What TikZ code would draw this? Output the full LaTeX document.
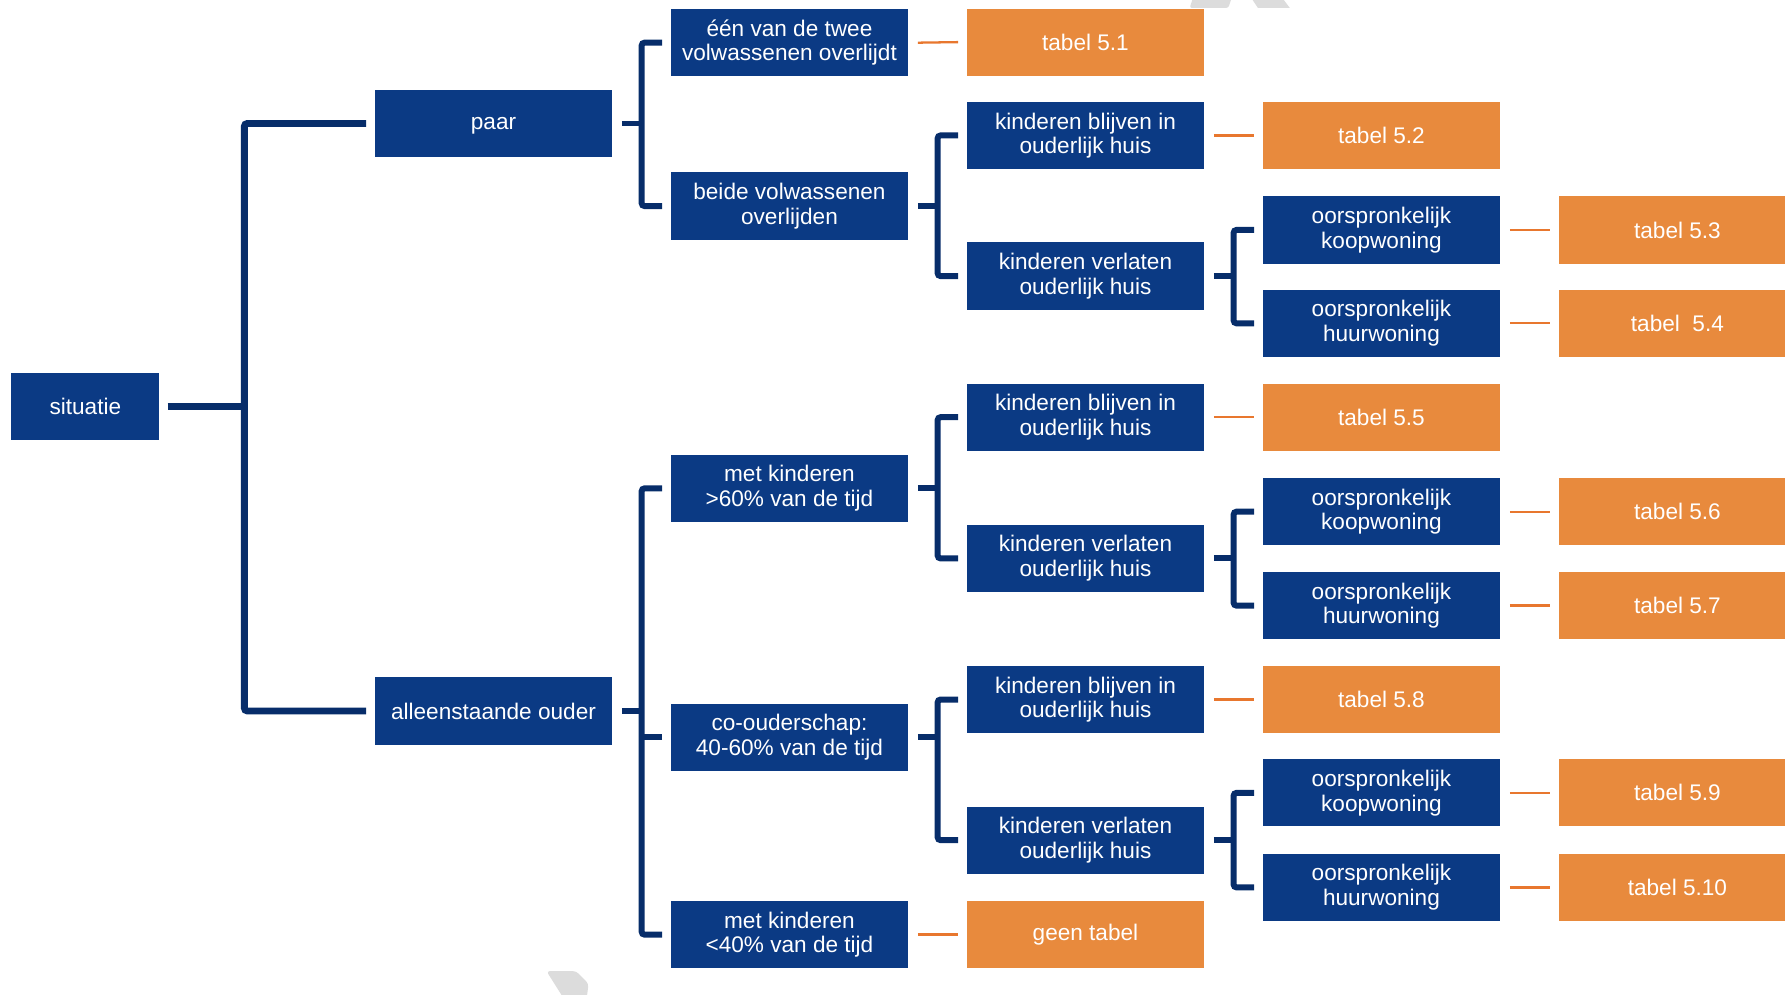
\documentclass[tikz,border=0pt]{standalone}
\usepackage{fontspec}
\setmainfont{Liberation Sans}
\usetikzlibrary{calc}
\definecolor{navy}{HTML}{0B3A84}
\definecolor{navyline}{HTML}{072D6A}
\definecolor{tabelorange}{HTML}{E88A3D}
\definecolor{orangeline}{HTML}{E8772E}
\definecolor{wmgrey}{HTML}{DCDCDC}
\begin{document}
\begin{tikzpicture}[x=0.02cm,y=-0.02cm,
  bbox/.style={fill=navy,text=white,align=center,minimum width=4.18cm,minimum height=1.18cm,inner sep=0pt,font=\fontsize{11.3}{12.3}\selectfont},
  obox/.style={bbox,fill=tabelorange},
  trunk/.style={draw=navyline,line width=0.12cm,rounded corners=0.05cm},
  br/.style={draw=navyline,line width=0.105cm,rounded corners=0.05cm},
  ol/.style={draw=orangeline,line width=0.04cm}]
\useasboundingbox (0,0) rectangle (1568,874);
\clip (0,0) rectangle (1568,874);
% watermark fragments
\fill[wmgrey,rounded corners=0.04cm] (1049,-5) -- (1083,-5) -- (1079,7) -- (1045,7) -- cycle;
\fill[wmgrey] (1097,-5) -- (1124,-5) -- (1133,7) -- (1105,7) -- cycle;
\fill[wmgrey,rounded corners=0.06cm] (480,853) -- (506,853) -- (517,864) -- (515,880) -- (497,880) -- cycle;
% column 1
\node[bbox,minimum width=2.6cm] (sit) at (75,357) {situatie};
% column 2
\node[bbox] (paar) at (433.5,108.5) {\vphantom{l}paar};
\node[bbox] (alleen) at (433.5,624.5) {alleenstaande ouder};
% column 3
\node[bbox] (een) at (693.5,37.5) {één van de twee\\volwassenen overlijdt};
\node[bbox] (beide) at (693.5,181) {beide volwassenen\\overlijden};
\node[bbox] (m60) at (693.5,429) {met kinderen\\>60\% van de tijd};
\node[bbox] (co) at (693.5,647.5) {co-ouderschap:\\40-60\% van de tijd};
\node[bbox] (m40) at (693.5,821) {met kinderen\\<40\% van de tijd};
% column 4
\node[obox] (t51) at (953.5,37) {tabel 5.1};
\node[bbox] (kb1) at (953.5,119) {kinderen blijven in\\ouderlijk huis};
\node[bbox] (kv1) at (953.5,242.5) {kinderen verlaten\\ouderlijk huis};
\node[bbox] (kb2) at (953.5,366.5) {kinderen blijven in\\ouderlijk huis};
\node[bbox] (kv2) at (953.5,490.5) {kinderen verlaten\\ouderlijk huis};
\node[bbox] (kb3) at (953.5,614.5) {kinderen blijven in\\ouderlijk huis};
\node[bbox] (kv3) at (953.5,738) {kinderen verlaten\\ouderlijk huis};
\node[obox] (geen) at (953.5,821) {geen tabel};
% column 5
\node[obox] (t52) at (1213.5,119) {tabel 5.2};
\node[bbox] (ko1) at (1213.5,202) {oorspronkelijk\\koopwoning};
\node[bbox] (hu1) at (1213.5,284) {oorspronkelijk\\huurwoning};
\node[obox] (t55) at (1213.5,366.5) {tabel 5.5};
\node[bbox] (ko2) at (1213.5,449.5) {oorspronkelijk\\koopwoning};
\node[bbox] (hu2) at (1213.5,532) {oorspronkelijk\\huurwoning};
\node[obox] (t58) at (1213.5,614.5) {tabel 5.8};
\node[bbox] (ko3) at (1213.5,696.5) {oorspronkelijk\\koopwoning};
\node[bbox] (hu3) at (1213.5,779.5) {oorspronkelijk\\huurwoning};
% column 6
\node[obox] (t53) at (1473.5,202) {tabel 5.3};
\node[obox] (t54) at (1473.5,284) {tabel\ \ 5.4};
\node[obox] (t56) at (1473.5,449.5) {tabel 5.6};
\node[obox] (t57) at (1473.5,532) {tabel 5.7};
\node[obox] (t59) at (1473.5,696.5) {tabel 5.9};
\node[obox] (t510) at (1473.5,779.5) {tabel 5.10};
% top level bracket
\draw[trunk] ($(sit.east)+(7,0)$) -- ($(sit.east)+(75,0)$);
\draw[trunk] ($(paar.west)+(-7,0)$) -| ($(alleen.west)+(-114,0)$) -- ($(alleen.west)+(-7,0)$);
% paar
\draw[br] ($(paar.east)+(8,0)$) -- ($(paar.east)+(26,0)$);
\draw[br] ($(een.west)+(-7,0)$) -| ($(beide.west)+(-25,0)$) -- ($(beide.west)+(-7,0)$);
% alleenstaande ouder
\draw[br] ($(alleen.east)+(8,0)$) -- ($(alleen.east)+(26,0)$);
\draw[br] ($(m60.west)+(-7,0)$) -| ($(m40.west)+(-25,0)$) -- ($(m40.west)+(-7,0)$);
\draw[br] ($(co.west)+(-7,0)$) -- ($(co.west)+(-25,0)$);
% beide
\draw[br] ($(beide.east)+(8,0)$) -- ($(beide.east)+(26,0)$);
\draw[br] ($(kb1.west)+(-7,0)$) -| ($(kv1.west)+(-25,0)$) -- ($(kv1.west)+(-7,0)$);
% met kinderen >60
\draw[br] ($(m60.east)+(8,0)$) -- ($(m60.east)+(26,0)$);
\draw[br] ($(kb2.west)+(-7,0)$) -| ($(kv2.west)+(-25,0)$) -- ($(kv2.west)+(-7,0)$);
% co-ouderschap
\draw[br] ($(co.east)+(8,0)$) -- ($(co.east)+(26,0)$);
\draw[br] ($(kb3.west)+(-7,0)$) -| ($(kv3.west)+(-25,0)$) -- ($(kv3.west)+(-7,0)$);
% kinderen verlaten
\draw[br] ($(kv1.east)+(8,0)$) -- ($(kv1.east)+(26,0)$);
\draw[br] ($(ko1.west)+(-7,0)$) -| ($(hu1.west)+(-25,0)$) -- ($(hu1.west)+(-7,0)$);
\draw[br] ($(kv2.east)+(8,0)$) -- ($(kv2.east)+(26,0)$);
\draw[br] ($(ko2.west)+(-7,0)$) -| ($(hu2.west)+(-25,0)$) -- ($(hu2.west)+(-7,0)$);
\draw[br] ($(kv3.east)+(8,0)$) -- ($(kv3.east)+(26,0)$);
\draw[br] ($(ko3.west)+(-7,0)$) -| ($(hu3.west)+(-25,0)$) -- ($(hu3.west)+(-7,0)$);
% orange links
\draw[ol] ($(een.east)+(8,0)$) -- ($(t51.west)+(-7,0)$);
\draw[ol] ($(m40.east)+(8,0)$) -- ($(geen.west)+(-7,0)$);
\draw[ol] ($(kb1.east)+(8,0)$) -- ($(t52.west)+(-7,0)$);
\draw[ol] ($(kb2.east)+(8,0)$) -- ($(t55.west)+(-7,0)$);
\draw[ol] ($(kb3.east)+(8,0)$) -- ($(t58.west)+(-7,0)$);
\draw[ol] ($(ko1.east)+(8,0)$) -- ($(t53.west)+(-7,0)$);
\draw[ol] ($(hu1.east)+(8,0)$) -- ($(t54.west)+(-7,0)$);
\draw[ol] ($(ko2.east)+(8,0)$) -- ($(t56.west)+(-7,0)$);
\draw[ol] ($(hu2.east)+(8,0)$) -- ($(t57.west)+(-7,0)$);
\draw[ol] ($(ko3.east)+(8,0)$) -- ($(t59.west)+(-7,0)$);
\draw[ol] ($(hu3.east)+(8,0)$) -- ($(t510.west)+(-7,0)$);
\end{tikzpicture}
\end{document}
